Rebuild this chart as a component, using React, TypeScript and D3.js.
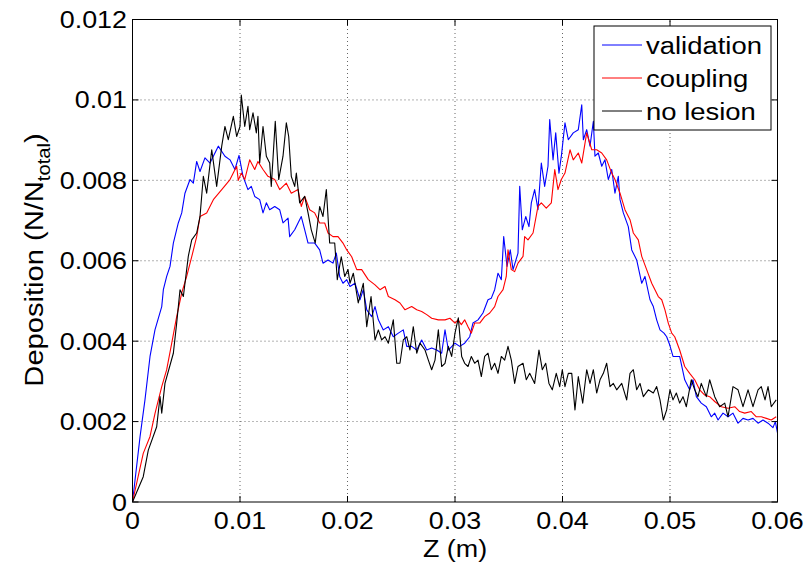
import React from "react";
import * as d3 from "d3";

// z positions in mm, deposition values in units of 1e-3
const validationZ = [0,0.70,1.16,1.63,2.09,2.72,2.87,3.18,3.49,3.80,4.26,4.58,4.88,5.35,5.66,5.97,6.28,6.74,7.21,7.98,8.60,9.07,9.53,9.91,10.28,10.74,11.05,11.37,11.83,12.14,12.45,12.76,13.23,13.69,14.00,14.47,14.62,15.09,15.40,15.70,16.02,16.33,16.95,17.41,17.72,18.19,18.65,18.96,19.27,19.58,19.93,20.23,20.70,21.16,21.47,21.79,22.25,22.56,22.87,23.33,23.80,24.26,24.73,25.19,25.51,25.97,26.44,26.90,27.37,27.83,28.30,28.76,29.07,29.38,30.00,30.44,30.90,31.37,31.67,32.14,32.60,33.07,33.38,33.69,34.00,34.31,34.53,34.84,35.14,35.40,35.86,36.02,36.26,36.58,36.88,37.10,37.41,37.72,38.03,38.34,38.65,38.81,39.12,39.37,39.67,39.91,40.23,40.54,41.00,41.47,41.79,41.94,42.25,42.56,42.87,43.02,43.33,43.65,43.95,44.26,44.58,44.88,45.19,45.35,45.66,46.12,46.44,46.90,47.37,47.67,48.14,48.45,48.76,49.07,49.44,49.69,49.97,50.28,50.90,51.37,51.83,52.14,52.45,52.91,53.38,53.84,54.16,54.47,54.93,55.40,55.86,56.33,56.79,57.26,57.72,58.19,58.65,59.12,59.58,59.80,60.00];
const validation = [0,1.62,2.54,3.62,4.28,4.86,5.28,5.61,5.86,6.44,6.94,7.19,7.68,8.02,7.93,8.47,8.22,8.56,8.43,8.85,8.60,8.51,8.27,8.62,8.10,7.77,7.85,7.60,7.52,7.19,7.44,7.27,7.35,7.27,6.94,7.06,6.60,6.77,6.94,7.10,6.77,6.44,6.44,6.27,5.94,6.02,5.94,6.19,5.61,5.44,5.53,5.36,5.44,5.03,5.28,4.78,4.61,4.86,4.53,4.28,4.36,4.11,4.20,4.28,3.87,3.87,3.78,4.03,3.78,3.83,3.78,3.70,4.28,3.78,3.95,3.87,3.95,4.11,4.45,4.53,4.70,5.03,5.07,5.28,5.69,5.53,6.60,5.86,6.27,5.78,6.19,7.85,6.77,7.10,6.85,7.44,7.77,7.27,8.43,7.85,8.35,9.51,8.51,9.18,8.18,8.64,9.43,9.01,9.18,9.26,9.88,9.01,9.26,8.85,9.47,8.60,8.68,8.35,8.51,8.02,8.27,7.68,8.10,7.52,7.19,6.85,6.27,6.02,5.44,5.61,5.03,4.86,4.53,4.28,4.20,4.11,3.91,3.62,3.62,3.04,2.79,3.04,2.62,2.46,2.37,2.12,2.21,2.04,2.21,2.12,2.21,1.96,2.08,2.04,2.08,1.96,2.04,1.96,1.85,2.00,1.72];

const couplingZ = [0,1.00,1.63,2.09,2.72,3.18,3.65,4.11,4.58,5.04,5.51,5.97,6.28,6.90,7.52,8.30,9.07,9.69,9.84,10.12,10.44,10.90,11.37,11.67,12.14,12.60,13.23,13.69,14.31,14.77,15.40,15.70,16.02,16.48,16.95,17.41,17.88,18.19,18.65,19.12,19.58,19.93,20.39,20.86,21.32,21.93,22.56,23.02,23.49,23.80,24.42,24.88,25.35,25.97,26.44,26.90,27.37,27.83,28.45,29.07,29.53,30.00,30.28,30.59,30.90,31.21,31.52,31.83,32.30,32.76,33.23,33.69,34.00,34.47,34.77,34.93,35.24,35.55,35.86,36.33,36.48,36.79,37.26,37.72,38.03,38.49,38.96,39.28,39.58,39.89,40.23,40.70,41.00,41.47,41.79,42.25,42.72,43.18,43.65,44.11,44.58,44.88,45.35,45.81,46.28,46.59,47.05,47.37,47.83,48.30,48.60,48.91,49.23,49.53,49.84,50.16,50.44,50.90,51.37,51.83,52.30,52.76,53.23,53.69,54.16,54.77,55.40,56.02,56.48,56.95,57.56,58.03,58.49,58.96,59.42,59.88];
const coupling = [0,1.21,1.63,2.20,2.87,3.29,3.95,4.61,5.20,5.61,6.10,6.60,7.10,7.19,7.52,7.77,8.02,8.35,8.00,8.18,8.02,8.51,8.27,8.47,8.27,8.10,8.02,7.77,7.93,7.68,7.77,7.35,7.60,7.27,7.19,6.94,6.94,6.69,6.60,6.60,6.44,6.27,6.10,5.78,5.78,5.53,5.40,5.28,5.36,5.11,5.03,4.95,4.78,4.86,4.78,4.74,4.66,4.57,4.53,4.53,4.57,4.45,4.53,4.41,4.53,4.36,4.20,4.45,4.45,4.61,4.70,4.86,5.11,5.28,5.61,6.27,5.78,5.73,5.94,6.11,6.60,6.52,6.69,7.35,7.44,7.31,7.44,8.27,7.77,8.02,8.18,8.76,8.51,8.68,8.43,9.18,8.76,8.76,8.68,8.51,8.18,8.02,7.68,7.27,7.02,6.69,6.52,6.11,5.78,5.44,5.28,5.11,5.03,4.78,4.45,4.20,4.11,3.78,3.37,3.20,3.04,2.79,2.66,2.62,2.50,2.37,2.33,2.37,2.25,2.21,2.25,2.12,2.12,2.08,2.04,2.12];

const noLesionZ = [0,1.00,1.47,2.25,2.56,2.72,3.02,3.80,4.11,4.42,4.73,5.19,5.51,5.97,6.28,6.59,6.90,7.37,7.83,8.30,8.60,8.91,9.38,9.69,10.00,10.12,10.44,10.74,10.90,11.21,11.52,11.67,11.83,12.14,12.45,12.76,12.91,13.28,13.60,14.00,14.31,14.53,14.77,15.09,15.24,15.55,16.02,16.33,16.63,17.00,17.41,17.72,18.03,18.34,18.81,19.05,19.42,19.74,20.05,20.23,20.54,21.00,21.47,21.79,22.19,22.56,22.87,23.18,23.49,23.80,24.26,24.58,24.88,25.19,25.51,25.81,26.12,26.44,26.74,27.21,27.52,27.83,28.14,28.45,28.76,29.07,29.38,29.69,30.00,30.31,30.62,30.90,31.21,31.52,31.83,32.14,32.45,32.76,33.07,33.38,33.69,34.00,34.31,34.62,34.93,35.24,35.55,35.86,36.33,36.63,36.95,37.41,37.81,38.12,38.44,38.74,39.05,39.42,39.74,39.98,40.23,40.54,40.86,41.16,41.47,41.88,42.25,42.56,42.87,43.18,43.49,43.80,44.11,44.42,44.73,45.04,45.51,45.97,46.28,46.59,46.90,47.21,47.52,47.98,48.45,48.76,49.07,49.38,49.69,50.00,50.28,50.59,50.90,51.21,51.52,51.98,52.30,52.60,52.91,53.38,53.69,54.16,54.62,55.09,55.40,55.86,56.33,56.79,57.26,57.72,58.19,58.49,58.84,59.12,59.42,59.88];
const noLesion = [0,0.63,1.29,1.87,2.62,2.21,2.95,3.70,4.45,5.28,5.11,6.11,6.52,6.69,7.10,8.10,7.68,8.76,7.85,8.85,9.34,9.01,9.59,9.09,9.34,10.12,9.34,9.84,9.26,9.68,9.18,9.59,8.43,9.34,8.60,8.43,7.85,9.47,8.02,8.60,9.43,9.09,8.10,7.85,8.18,7.44,7.60,7.19,6.77,6.44,7.35,7.10,7.77,6.44,6.44,5.53,6.10,5.61,5.78,5.44,5.69,4.95,5.44,4.36,5.11,4.03,4.28,4.03,4.11,3.95,4.53,3.45,3.45,4.03,4.11,3.78,4.36,3.70,3.95,3.78,3.53,3.29,3.53,4.28,3.37,3.45,3.87,3.62,4.20,4.58,3.62,3.45,3.37,3.62,3.45,3.53,3.12,3.62,3.70,3.29,3.45,3.20,3.62,3.53,3.87,3.53,2.95,3.37,3.45,3.04,3.20,2.95,3.78,3.29,3.45,2.95,2.79,3.20,2.87,3.29,2.87,3.20,3.20,2.29,3.12,2.46,3.29,2.95,3.29,2.71,3.04,3.20,3.45,2.87,2.95,2.79,2.95,2.54,3.20,3.29,2.79,2.95,2.62,2.79,2.71,2.87,2.54,2.04,2.29,2.79,2.54,2.71,2.46,2.62,2.37,3.04,2.79,2.62,2.95,2.62,3.04,2.62,2.37,2.46,2.12,2.87,2.79,2.37,2.79,2.37,2.79,2.87,2.54,2.87,2.37,2.54];

const xTicks = [0, 0.01, 0.02, 0.03, 0.04, 0.05, 0.06];
const yTicks = [0, 0.002, 0.004, 0.006, 0.008, 0.01, 0.012];
const xTickLabels = ["0", "0.01", "0.02", "0.03", "0.04", "0.05", "0.06"];
const yTickLabels = ["0", "0.002", "0.004", "0.006", "0.008", "0.01", "0.012"];
const seriesNames = ["validation", "coupling", "no lesion"];
const seriesColors = ["#0000ff", "#ff0000", "#000000"];

const W = 806, H = 566;
const L = 132.5, R = 777.5, T = 19.5, B = 502;
const FONT = "'Liberation Sans', Arial, Helvetica, sans-serif";
const SX = 1.12;

export default function App() {
  const x = d3.scaleLinear().domain([0, 0.06]).range([L, R]);
  const y = d3.scaleLinear().domain([0, 0.012]).range([B, T]);
  const line = d3
    .line<[number, number]>()
    .x((d) => x(d[0] / 1000))
    .y((d) => y(d[1] / 1000));
  const series = [
    { z: validationZ, v: validation },
    { z: couplingZ, v: coupling },
    { z: noLesionZ, v: noLesion },
  ];
  const tick = 6;
  const legX = 594, legY = 26, legW = 177, legH = 104;
  const rowY = [45, 78, 111];
  return (
    <svg
      width={W}
      height={H}
      style={{ position: "absolute", left: 0, top: 0, background: "#fff" }}
      fontFamily={FONT}
    >
      <rect x={0} y={0} width={W} height={H} fill="#fff" />
      {/* grid */}
      {xTicks.slice(1, -1).map((t) => (
        <line key={"gx" + t} x1={x(t)} x2={x(t)} y1={B} y2={T} stroke="#000" strokeWidth={0.8} strokeDasharray="1,3" opacity={0.75} />
      ))}
      {yTicks.slice(1, -1).map((t) => (
        <line key={"gy" + t} x1={L} x2={R} y1={y(t)} y2={y(t)} stroke="#000" strokeWidth={0.8} strokeDasharray="1,3" opacity={0.75} />
      ))}
      {/* data */}
      {series.map((s, i) => (
        <path
          key={i}
          d={line(s.z.map((z, k) => [z, s.v[k]] as [number, number])) || ""}
          fill="none"
          stroke={seriesColors[i]}
          strokeWidth={1.1}
          strokeLinejoin="round"
        />
      ))}
      {/* box & ticks */}
      <rect x={L} y={T} width={R - L} height={B - T} fill="none" stroke="#000" strokeWidth={1} />
      {xTicks.map((t) => (
        <g key={"tx" + t}>
          <line x1={x(t)} x2={x(t)} y1={B} y2={B - tick} stroke="#000" />
          <line x1={x(t)} x2={x(t)} y1={T} y2={T + tick} stroke="#000" />
        </g>
      ))}
      {yTicks.map((t) => (
        <g key={"ty" + t}>
          <line x1={L} x2={L + tick} y1={y(t)} y2={y(t)} stroke="#000" />
          <line x1={R} x2={R - tick} y1={y(t)} y2={y(t)} stroke="#000" />
        </g>
      ))}
      {/* tick labels */}
      {xTicks.map((t, i) => (
        <text
          key={"lx" + t}
          transform={`translate(${x(t)},${529}) scale(${SX},1)`}
          textAnchor="middle"
          fontSize={24}
        >
          {xTickLabels[i]}
        </text>
      ))}
      {yTicks.map((t, i) => (
        <text
          key={"ly" + t}
          transform={`translate(${127},${y(t) + 8.5}) scale(${SX},1)`}
          textAnchor="end"
          fontSize={24}
        >
          {yTickLabels[i]}
        </text>
      ))}
      {/* axis labels */}
      <text transform={`translate(455,557) scale(${SX},1)`} textAnchor="middle" fontSize={24}>
        Z (m)
      </text>
      <text transform={`translate(43,260) rotate(-90) scale(${SX},1)`} textAnchor="middle" fontSize={26}>
        Deposition (N/N
        <tspan fontSize={18} dy={7}>total</tspan>
        <tspan dy={-7}>)</tspan>
      </text>
      {/* legend */}
      <rect x={legX} y={legY} width={legW} height={legH} fill="#fff" stroke="#000" strokeWidth={1} />
      {seriesNames.map((n, i) => (
        <g key={n}>
          <line x1={602} x2={642} y1={rowY[i]} y2={rowY[i]} stroke={seriesColors[i]} strokeWidth={1} />
          <text transform={`translate(646,${rowY[i] + 8.5}) scale(${SX},1)`} fontSize={24.5}>
            {n}
          </text>
        </g>
      ))}
    </svg>
  );
}
